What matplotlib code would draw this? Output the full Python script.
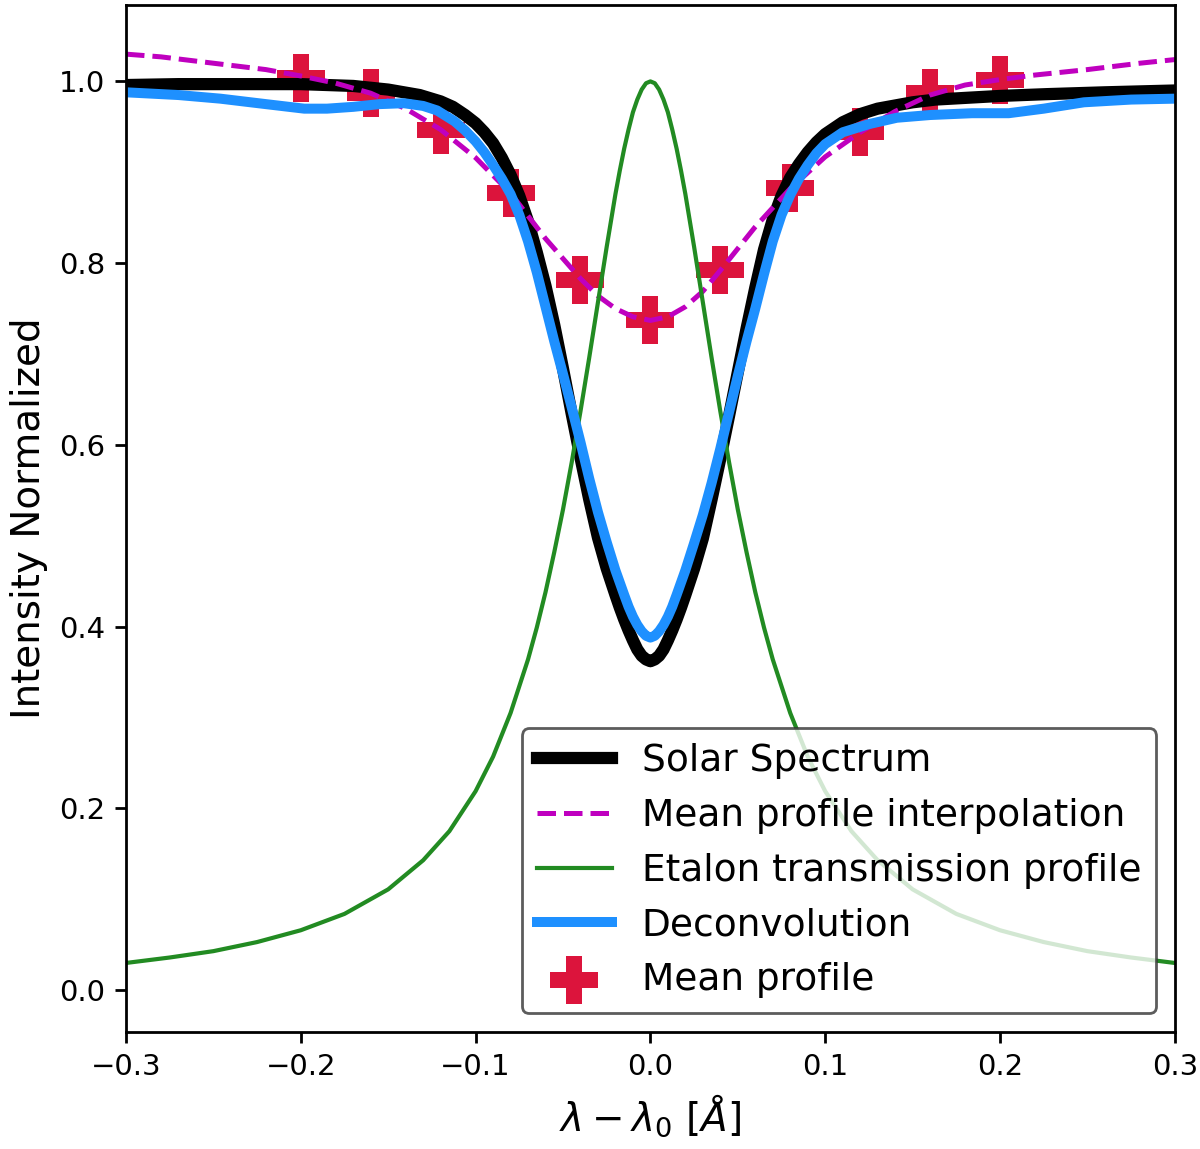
import numpy as np
import matplotlib
matplotlib.use("Agg")
import matplotlib.pyplot as plt

plt.rcParams['font.family'] = ['DejaVu Sans']
plt.rcParams['mathtext.fontset'] = 'dejavusans'

# solar spectrum (black)
x_solar = [-0.300, -0.270, -0.240, -0.200, -0.170, -0.150, -0.132, -0.120, -0.113,
           -0.106, -0.100, -0.095, -0.090, -0.085, -0.080, -0.075, -0.070, -0.065,
           -0.060, -0.055, -0.050, -0.045, -0.040, -0.035, -0.030, -0.025, -0.020,
           -0.0175, -0.015, -0.0125, -0.010, -0.0075, -0.005, -0.0025, 0.000,
           0.0025, 0.005, 0.0075, 0.010, 0.0125, 0.015, 0.0175, 0.020, 0.025,
           0.030, 0.035, 0.040, 0.045, 0.050, 0.055, 0.060, 0.065, 0.070, 0.075,
           0.080, 0.085, 0.090, 0.095, 0.100, 0.110, 0.120, 0.130, 0.150, 0.163,
           0.200, 0.227, 0.260, 0.300]
y_solar = [0.996, 0.997, 0.997, 0.997, 0.995, 0.991, 0.985, 0.978, 0.972,
           0.963, 0.954, 0.944, 0.932, 0.916, 0.897, 0.874, 0.846, 0.812,
           0.775, 0.732, 0.684, 0.634, 0.586, 0.540, 0.498, 0.464, 0.435,
           0.421, 0.408, 0.396, 0.385, 0.375, 0.368, 0.364, 0.362,
           0.364, 0.368, 0.375, 0.385, 0.396, 0.408, 0.421, 0.435, 0.464,
           0.497, 0.540, 0.585, 0.632, 0.680, 0.728, 0.773, 0.815, 0.848, 0.874,
           0.894, 0.909, 0.922, 0.933, 0.942, 0.955, 0.964, 0.970, 0.977, 0.980,
           0.984, 0.986, 0.988, 0.990]

# deconvolution (blue)
x_deconv = [-0.300, -0.270, -0.246, -0.220, -0.198, -0.185, -0.170, -0.155, -0.141,
            -0.130, -0.122, -0.112, -0.106, -0.100, -0.095, -0.090, -0.085, -0.080,
            -0.075, -0.070, -0.065, -0.060, -0.055, -0.050, -0.045, -0.040, -0.035,
            -0.030, -0.025, -0.020, -0.015, -0.0125, -0.010, -0.0075, -0.005,
            -0.0025, 0.000, 0.0025, 0.005, 0.0075, 0.010, 0.0125, 0.015, 0.020,
            0.025, 0.030, 0.035, 0.040, 0.045, 0.050, 0.055, 0.060, 0.065, 0.070,
            0.075, 0.080, 0.085, 0.090, 0.095, 0.100, 0.110, 0.125, 0.141, 0.160,
            0.184, 0.205, 0.225, 0.248, 0.275, 0.300]
y_deconv = [0.988, 0.985, 0.981, 0.975, 0.970, 0.970, 0.972, 0.975, 0.976,
            0.973, 0.968, 0.956, 0.946, 0.934, 0.922, 0.908, 0.893, 0.876,
            0.853, 0.824, 0.790, 0.752, 0.714, 0.678, 0.641, 0.603, 0.563,
            0.526, 0.493, 0.462, 0.435, 0.422, 0.411, 0.402, 0.395,
            0.390, 0.388, 0.390, 0.395, 0.402, 0.411, 0.422, 0.435, 0.462,
            0.492, 0.523, 0.558, 0.596, 0.636, 0.676, 0.714, 0.750, 0.788, 0.824,
            0.853, 0.875, 0.893, 0.908, 0.921, 0.931, 0.944, 0.953, 0.960, 0.963,
            0.965, 0.965, 0.970, 0.977, 0.980, 0.981]

# etalon transmission (green)
x_etalon = [-0.300, -0.275, -0.250, -0.225, -0.200, -0.175, -0.150, -0.130, -0.115,
            -0.100, -0.090, -0.080, -0.070, -0.065, -0.060, -0.055, -0.050, -0.045,
            -0.040, -0.035, -0.030, -0.025, -0.020, -0.0175, -0.015, -0.0125,
            -0.010, -0.0075, -0.005, -0.0025, 0.000, 0.0025, 0.005, 0.0075, 0.010,
            0.0125, 0.015, 0.0175, 0.020, 0.025, 0.030, 0.035, 0.040, 0.045, 0.050,
            0.055, 0.060, 0.065, 0.070, 0.080, 0.090, 0.100, 0.115, 0.130, 0.150,
            0.175, 0.200, 0.225, 0.250, 0.275, 0.300]
y_etalon = [0.030, 0.036, 0.043, 0.053, 0.066, 0.084, 0.111, 0.143, 0.175,
            0.219, 0.257, 0.305, 0.364, 0.399, 0.438, 0.482, 0.529, 0.581,
            0.637, 0.696, 0.757, 0.818, 0.876, 0.902, 0.926, 0.947,
            0.966, 0.980, 0.991, 0.998, 1.000, 0.998, 0.991, 0.980, 0.966,
            0.947, 0.926, 0.902, 0.876, 0.818, 0.757, 0.696, 0.637, 0.581, 0.529,
            0.482, 0.438, 0.399, 0.364, 0.305, 0.257, 0.219, 0.175, 0.143, 0.111,
            0.084, 0.066, 0.053, 0.043, 0.036, 0.030]

# mean profile interpolation (magenta dashed)
x_interp = [-0.300, -0.280, -0.250, -0.220, -0.200, -0.180, -0.160, -0.140, -0.120,
            -0.100, -0.080, -0.060, -0.040, -0.030, -0.020, -0.010, 0.000, 0.010,
            0.020, 0.030, 0.040, 0.060, 0.080, 0.100, 0.120, 0.140, 0.160, 0.180,
            0.200, 0.220, 0.250, 0.280, 0.300]
y_interp = [1.030, 1.027, 1.020, 1.013, 1.006, 0.998, 0.987, 0.970, 0.947,
            0.916, 0.877, 0.827, 0.783, 0.764, 0.750, 0.741, 0.737, 0.741,
            0.752, 0.769, 0.792, 0.840, 0.882, 0.917, 0.944, 0.967, 0.985, 0.996,
            1.002, 1.007, 1.013, 1.020, 1.024]

# mean profile points
x_mean = [-0.20, -0.16, -0.12, -0.08, -0.04, 0.00, 0.04, 0.08, 0.12, 0.16, 0.20]
y_mean = [1.004, 0.987, 0.946, 0.877, 0.782, 0.737, 0.792, 0.883, 0.944, 0.987, 1.001]

fig = plt.figure(figsize=(6, 5.745), dpi=200)
ax = fig.add_axes([0.105, 0.1018, 0.874, 0.8938])

ax.plot(x_solar, y_solar, color='k', lw=4.4, label='Solar Spectrum')
ax.plot(x_interp, y_interp, color='m', ls='--', lw=1.8, label='Mean profile interpolation')
ax.plot(x_etalon, y_etalon, color='forestgreen', lw=1.5, label='Etalon transmission profile')
ax.plot(x_deconv, y_deconv, color='dodgerblue', lw=3.6, label='Deconvolution')
ax.scatter(x_mean, y_mean, marker='P', s=290, color='crimson', linewidths=0,
           zorder=1, label='Mean profile')

ax.set_xlim(-0.3, 0.3)
ax.set_ylim(-0.046, 1.084)
ax.set_xticks(np.arange(-0.3, 0.31, 0.1))
ax.set_yticks(np.arange(0.0, 1.01, 0.2))
ax.tick_params(labelsize=10.5, width=1.0, length=4)
for s in ax.spines.values():
    s.set_linewidth(1.0)

ax.set_xlabel(r'$\lambda - \lambda_0\ [\AA]$', fontsize=14)
ax.set_ylabel('Intensity Normalized', fontsize=14)
leg = ax.legend(loc='lower right', fontsize=13.5)
leg.get_frame().set_edgecolor('0.2')
leg.get_frame().set_linewidth(1.0)

fig.savefig('out.png', dpi=200)
